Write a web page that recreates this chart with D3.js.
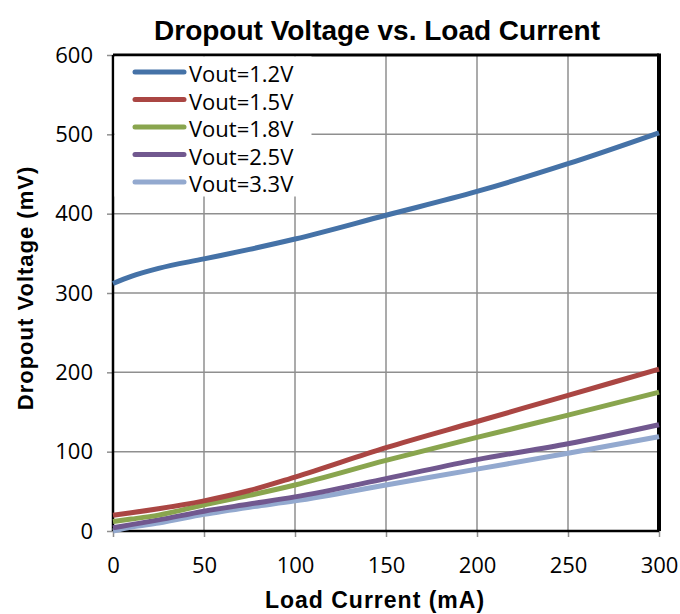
<!DOCTYPE html>
<html>
<head>
<meta charset="utf-8">
<script src="https://cdn.jsdelivr.net/npm/d3@7"></script>
<style>
  body { margin: 0; background: #fff; }
  text { font-family: "Open Sans", "Liberation Sans", sans-serif; }
</style>
</head>
<body>
<div id="chart"></div>
<script>
// data
var current = [0, 10, 25, 50, 75, 100, 150, 200, 250, 300];
var v12 = [312, 321, 331, 343, 355, 368, 398, 428, 463, 502];
var v15 = [20, 23, 28, 38, 51, 68, 105, 138, 171, 204];
var v18 = [12, 15, 20, 33, 45, 58, 89, 118, 146, 175];
var v25 = [4, 8, 14, 25, 34, 43, 66, 90, 110, 134];
var v33 = [0, 5, 10, 21, 30, 38, 58, 78, 98, 119];
var seriesNames = ["Vout=1.2V", "Vout=1.5V", "Vout=1.8V", "Vout=2.5V", "Vout=3.3V"];
var colors = ["#4572A7", "#AA4643", "#89A54E", "#71588F", "#93A9CF"];
var xTicks = [0, 50, 100, 150, 200, 250, 300];
var yTicks = [0, 100, 200, 300, 400, 500, 600];

var svgWidth = 680, svgHeight = 614;
var margin = {top: 55, left: 113, right: 21, bottom: 83};
var width = svgWidth - margin.left - margin.right;
var height = svgHeight - margin.top - margin.bottom;

var svg = d3.select("#chart").append("svg")
    .attr("width", svgWidth).attr("height", svgHeight);

var chartGroup = svg.append("g")
    .attr("transform", `translate(${margin.left}, ${margin.top})`);

var x = d3.scaleLinear().domain([0, 300]).range([0, width]);
var y = d3.scaleLinear().domain([0, 600]).range([height, 0]);

// gridlines
chartGroup.append("g")
    .selectAll("line.vg").data(xTicks.slice(1)).enter().append("line")
    .attr("x1", d => x(d)).attr("x2", d => x(d))
    .attr("y1", 0).attr("y2", height)
    .attr("stroke", "#8f8f8f").attr("stroke-width", 1.5);
chartGroup.append("g")
    .selectAll("line.hg").data(yTicks.slice(1)).enter().append("line")
    .attr("x1", 0).attr("x2", width)
    .attr("y1", d => y(d)).attr("y2", d => y(d))
    .attr("stroke", "#8f8f8f").attr("stroke-width", 1.5);

// axes
var bottomAxis = d3.axisBottom(x).tickValues(xTicks).tickSize(6).tickPadding(20);
var leftAxis = d3.axisLeft(y).tickValues(yTicks).tickSize(6).tickPadding(14);

var gx = chartGroup.append("g")
    .attr("transform", `translate(0, ${height})`)
    .call(bottomAxis);
var gy = chartGroup.append("g").call(leftAxis);

[gx, gy].forEach(function(g) {
  g.select(".domain").remove();
  g.selectAll(".tick line").attr("stroke", "#8f8f8f").attr("stroke-width", 1.5);
  g.selectAll(".tick text")
    .attr("fill", "#000")
    .style("font-size", "22px")
    .style("font-family", "'Open Sans', sans-serif");
});

// frame
chartGroup.append("line").attr("x1", 0).attr("x2", width).attr("y1", 0).attr("y2", 0)
    .attr("stroke", "#000").attr("stroke-width", 3);
chartGroup.append("line").attr("x1", width).attr("x2", width).attr("y1", -1.5).attr("y2", height)
    .attr("stroke", "#000").attr("stroke-width", 4);
chartGroup.append("line").attr("x1", 0).attr("x2", width).attr("y1", height).attr("y2", height)
    .attr("stroke", "#000").attr("stroke-width", 2.5);
chartGroup.append("line").attr("x1", 0).attr("x2", 0).attr("y1", 0).attr("y2", height)
    .attr("stroke", "#000").attr("stroke-width", 2.5);

// legend box (covers the grid)
var legend = chartGroup.append("g");
legend.append("rect")
    .attr("x", 1.5).attr("y", 1.5).attr("width", 197).attr("height", 140)
    .attr("fill", "#fff");

var allSeries = [v12, v15, v18, v25, v33];

var line = d3.line()
    .x((d, i) => x(current[i]))
    .y(d => y(d))
    .curve(d3.curveMonotoneX);

// draw in reverse so 1.2V on top
allSeries.slice().reverse().forEach(function(vals, j) {
  var k = allSeries.length - 1 - j;
  chartGroup.append("path")
    .datum(vals)
    .attr("d", line)
    .attr("fill", "none")
    .attr("stroke", colors[k])
    .attr("stroke-width", 5);
});

seriesNames.forEach(function(name, i) {
  var ly = 17 + i * 27.5;
  legend.append("line")
    .attr("x1", 22).attr("x2", 71).attr("y1", ly).attr("y2", ly)
    .attr("stroke", colors[i]).attr("stroke-width", 5)
    .attr("stroke-linecap", "round");
  legend.append("text")
    .attr("x", 76).attr("y", ly + 1)
    .attr("dominant-baseline", "central")
    .style("font-size", "22px")
    .text(name);
});

// titles
svg.append("text")
    .attr("x", 377).attr("y", 40)
    .attr("text-anchor", "middle")
    .style("font-family", "'Liberation Sans', Arial, sans-serif")
    .style("font-weight", "bold")
    .style("font-size", "28px")
    .text("Dropout Voltage vs. Load Current");

svg.append("text")
    .attr("x", 375).attr("y", 608)
    .attr("text-anchor", "middle")
    .style("font-family", "'Liberation Sans', Arial, sans-serif")
    .style("font-weight", "bold")
    .style("font-size", "23px")
    .style("letter-spacing", "1px")
    .text("Load Current (mA)");

svg.append("text")
    .attr("transform", "translate(33, 288) rotate(-90)")
    .attr("text-anchor", "middle")
    .style("font-family", "'Liberation Sans', Arial, sans-serif")
    .style("font-weight", "bold")
    .style("font-size", "22px")
    .style("letter-spacing", "1px")
    .text("Dropout  Voltage (mV)");
</script>
</body>
</html>
